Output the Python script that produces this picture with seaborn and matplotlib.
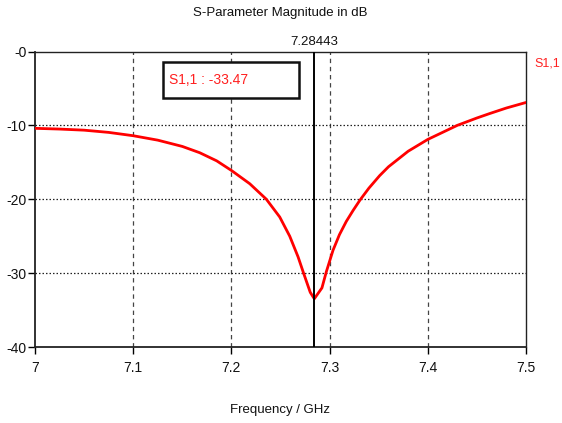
import matplotlib
matplotlib.use("Agg")
import matplotlib.pyplot as plt
import seaborn as sns
import pandas as pd
from matplotlib.patches import Rectangle

# S11 magnitude sweep (GHz, dB)
freq_ghz = [7.0, 7.025, 7.05, 7.075, 7.1, 7.125, 7.15, 7.1677, 7.185, 7.2,
            7.2187, 7.2356, 7.2492, 7.2594, 7.2679, 7.2735, 7.2803, 7.28443,
            7.2922, 7.2967, 7.3035, 7.31, 7.317, 7.324, 7.331, 7.34, 7.351,
            7.36, 7.38, 7.4, 7.43, 7.45, 7.463, 7.48, 7.5]
s11_db = [-10.4, -10.5, -10.65, -10.95, -11.4, -12.0, -12.85, -13.7, -14.8, -16.1,
          -17.9, -20.0, -22.4, -25.0, -27.8, -30.0, -32.6, -33.47,
          -32.0, -29.8, -26.9, -24.8, -23.0, -21.5, -20.1, -18.5, -16.8,
          -15.6, -13.5, -11.9, -10.0, -9.0, -8.4, -7.65, -6.9]

x_ticks = [7.0, 7.1, 7.2, 7.3, 7.4, 7.5]
x_tick_labels = ["7", "7.1", "7.2", "7.3", "7.4", "7.5"]
y_ticks = [0, -10, -20, -30, -40]
y_tick_labels = ["-0", "-10", "-20", "-30", "-40"]

marker_freq = 7.28443
marker_value = -33.47
trace_name = "S1,1"

sns.set_style("white")
plt.rcParams["font.family"] = ["Liberation Sans", "DejaVu Sans"]

df = pd.DataFrame({"freq": freq_ghz, "s11": s11_db})

fig = plt.figure(figsize=(5.62, 4.23), dpi=100)
ax = fig.add_axes([35 / 562, 1 - 347 / 423, (526 - 35) / 562, (347 - 51.5) / 423])

# grid: dashed verticals, dotted horizontals
for xv in x_ticks[1:-1]:
    ax.axvline(xv, color="#444444", lw=0.9, ls=(0, (3.5, 3)), zorder=1)
for yv in y_ticks[1:-1]:
    ax.axhline(yv, color="#222222", lw=0.9, ls=(0, (1.2, 1.6)), zorder=1)

sns.lineplot(data=df, x="freq", y="s11", color="#ff0000", lw=2.0, ax=ax,
             zorder=3, sort=True, solid_joinstyle="round", solid_capstyle="round")

# marker line
ax.axvline(marker_freq, color="black", lw=1.4, zorder=4)
ax.text(marker_freq, 1.012, f"{marker_freq:.5f}", transform=ax.get_xaxis_transform(),
        ha="center", va="bottom", fontsize=9.5, color="#111111")

# marker readout box
box_x0, box_x1 = 7.130, 7.269
box_y0, box_y1 = -6.3, -1.45
ax.add_patch(Rectangle((box_x0, box_y0), box_x1 - box_x0, box_y1 - box_y0,
                       fill=True, facecolor="white", edgecolor="#111111", lw=1.8, zorder=5))
ax.text(box_x0 + 0.006, (box_y0 + box_y1) / 2, f"{trace_name} : {marker_value:.2f}",
        color="#ff2020", fontsize=10, ha="left", va="center", zorder=6)

ax.set_xlim(7.0, 7.5)
ax.set_ylim(-40, 0)
ax.set_xticks(x_ticks)
ax.set_xticklabels(x_tick_labels)
ax.set_yticks(y_ticks)
ax.set_yticklabels(y_tick_labels)
ax.tick_params(axis="both", direction="out", length=5, width=1, color="black",
               labelsize=10, labelcolor="#111111", bottom=True, left=True)
ax.tick_params(axis="x", pad=5)
ax.tick_params(axis="y", pad=1)
for sp in ax.spines.values():
    sp.set_color("#222222")
    sp.set_linewidth(1.0)
ax.spines["left"].set_linewidth(1.3)
ax.spines["bottom"].set_linewidth(1.3)

ax.set_xlabel("")
ax.set_ylabel("")
fig.text(280.5 / 562, 1 - 13 / 423, "S-Parameter Magnitude in dB", ha="center", va="center",
         fontsize=9.5, color="#111111")
fig.text(280.5 / 562, 1 - 410 / 423, "Frequency / GHz", ha="center", va="center",
         fontsize=9.5, color="#111111")
fig.text(534 / 562, 1 - 63 / 423, trace_name, ha="left", va="center",
         fontsize=9, color="#ff2020")

fig.savefig("out.png", dpi=100)
